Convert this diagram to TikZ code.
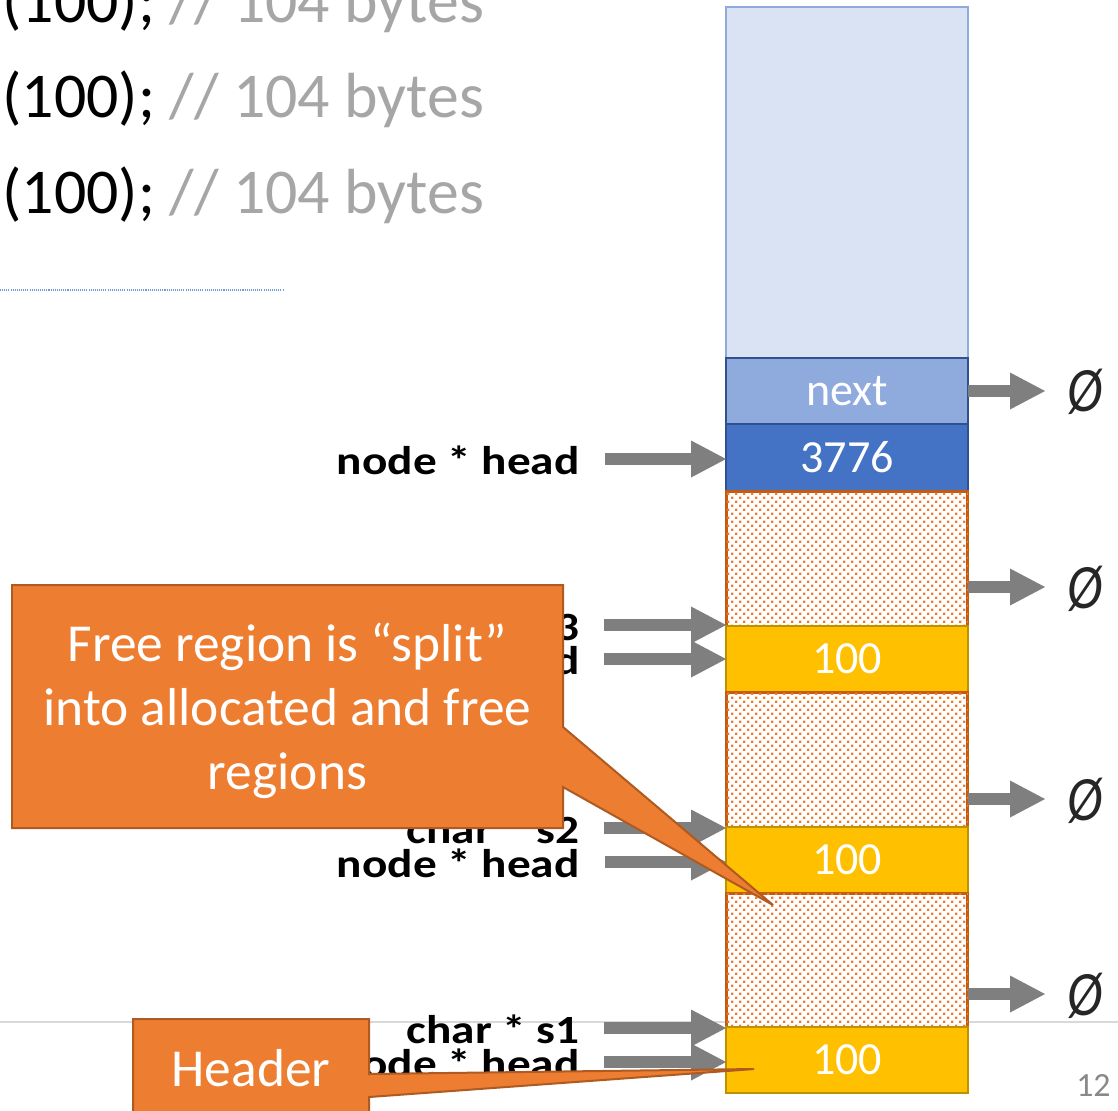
\documentclass[tikz,border=0pt]{standalone}
\usepackage{fontspec}
\setmainfont{Carlito}
\usetikzlibrary{arrows.meta,patterns.meta}
\definecolor{lightblk}{HTML}{DAE3F3}
\definecolor{midblue}{HTML}{8FAADC}
\definecolor{darkblue}{HTML}{2F528F}
\definecolor{accblue}{HTML}{4472C4}
\definecolor{goldfill}{HTML}{FFC000}
\definecolor{goldline}{HTML}{BF9000}
\definecolor{freeline}{HTML}{C55A11}
\definecolor{freedot}{HTML}{ED7D31}
\definecolor{arrgray}{HTML}{7F7F7F}
\definecolor{callfill}{HTML}{ED7D31}
\definecolor{callline}{HTML}{AE5A21}
\definecolor{codegray}{HTML}{A6A6A6}
\definecolor{phicol}{HTML}{262626}
\definecolor{pagegray}{HTML}{898989}
\definecolor{rulegray}{HTML}{D9D9D9}
\definecolor{dotblue}{HTML}{6F9AD8}
\tikzdeclarepattern{
  name=hdots,
  type=uncolored,
  bottom left={(0pt,0pt)},
  top right={(4.552pt,4.552pt)},
  tile size={(4.552pt,4.552pt)},
  code={
    \fill (0.1pt,0.1pt) rectangle (1.4pt,1.4pt);
    \fill (2.376pt,2.376pt) rectangle (3.676pt,3.676pt);
  }
}
\begin{document}
\begin{tikzpicture}[x=0.02cm,y=-0.02cm,
  cell/.style={draw, minimum width=4.84cm, inner sep=0pt, outer sep=0pt, text=white,
    line width=0.05cm, font=\fontsize{26.2pt}{30pt}\selectfont},
  topcell/.style={cell, fill=lightblk, draw=midblue, line width=0.04cm},
  nextcell/.style={cell, fill=midblue, draw=darkblue},
  headcell/.style={cell, fill=accblue, draw=darkblue},
  usedcell/.style={cell, fill=goldfill, draw=goldline},
  freecell/.style={cell, fill=white, draw=freeline, line width=0.06cm,
    postaction={pattern=hdots, pattern color=freedot}},
  blk/.style={draw=arrgray, line width=0.25cm,
    -{Triangle[length=0.7cm,width=0.74cm,line width=0pt]}},
  lbl/.style={anchor=base east, inner sep=0pt, text=black,
    font=\fontsize{22.8pt}{26pt}\selectfont\bfseries},
  phi/.style={anchor=base, inner sep=0pt, text=phicol,
    font=\fontsize{36pt}{40pt}\selectfont\itshape},
  calltext/.style={text=white, align=center, inner sep=0pt,
    font=\fontsize{30.4pt}{36.4pt}\selectfont},
  callshape/.style={fill=callfill, draw=callline, line width=0.04cm, line join=miter},
  codeline/.style={anchor=base west, inner sep=0pt, text=black,
    font=\fontsize{36.3pt}{40pt}\selectfont}
]
\useasboundingbox (0,0) rectangle (1118,1110);
\clip (0,0) rectangle (1118,1110);
\fill[white] (0,0) rectangle (1118,1110);

% slide rules
\coordinate (ruleL) at (0,1022);
\coordinate (ruleR) at (1118,1022);
\draw[rulegray, line width=0.03cm] (ruleL) -- (ruleR);
\coordinate (dotL) at (0,290);
\coordinate (dotR) at (284,290);
\draw[dotblue, line width=0.6pt, dash pattern=on 0.6pt off 0.6pt] (dotL) -- (dotR);

% code lines
\node[codeline] (code1) at (2,22) {(100); \textcolor{codegray}{// 104 bytes}};
\node[codeline] (code2) at (2,117) {(100); \textcolor{codegray}{// 104 bytes}};
\node[codeline] (code3) at (2,213) {(100); \textcolor{codegray}{// 104 bytes}};

% memory column
\node[topcell, minimum height=7.02cm] (ctop) at (847,182.5) {};
\node[nextcell, minimum height=1.32cm] (cnext) at (847,391) {next};
\node[headcell, minimum height=1.34cm] (chead) at (847,457.5) {3776};
\node[freecell, minimum height=2.7cm] (free1) at (847,558.5) {};
\node[usedcell, minimum height=1.32cm] (used1) at (847,659) {100};
\node[freecell, minimum height=2.7cm] (free2) at (847,759.5) {};
\node[usedcell, minimum height=1.32cm] (used2) at (847,860) {100};
\node[freecell, minimum height=2.68cm] (free3) at (847,960) {};
\node[usedcell, minimum height=1.32cm] (used3) at (847,1060) {100};

% right arrows to null
\node[phi] (phi1) at (1085,411) {\scalebox{0.85}[1]{Ø}};
\node[phi] (phi2) at (1085,608) {\scalebox{0.85}[1]{Ø}};
\node[phi] (phi3) at (1085,820) {\scalebox{0.85}[1]{Ø}};
\node[phi] (phi4) at (1085,1015) {\scalebox{0.85}[1]{Ø}};
\coordinate (r1) at (1045,391);
\coordinate (r2) at (1045,587);
\coordinate (r3) at (1045,799);
\coordinate (r4) at (1045,994);
\draw[blk] (cnext.east) -- (r1);
\draw[blk] (r2 -| free1.east) -- (r2);
\draw[blk] (r3 -| free2.east) -- (r3);
\draw[blk] (r4 -| free3.east) -- (r4);

% left labels
\node[lbl] (l0) at (580,474) {\scalebox{1.18}[1]{node * head}};
\node[lbl] (l1a) at (580,640) {\scalebox{1.18}[1]{char * s3}};
\node[lbl] (l1b) at (580,674) {\scalebox{1.18}[1]{node * head}};
\node[lbl] (l2a) at (580,843) {\scalebox{1.18}[1]{char * s2}};
\node[lbl] (l2b) at (580,877) {\scalebox{1.18}[1]{node * head}};
\node[lbl] (l3a) at (580,1043) {\scalebox{1.18}[1]{char * s1}};
\node[lbl] (l3b) at (580,1077) {\scalebox{1.18}[1]{node * head}};

% left arrows
\coordinate (p0) at (605,459);
\coordinate (p1a) at (604,625);
\coordinate (p1b) at (604,659);
\coordinate (p2a) at (604,828);
\coordinate (p2b) at (605,862);
\coordinate (p3a) at (604,1028);
\coordinate (p3b) at (604,1062);
\draw[blk] (p0) -- (p0 -| chead.west);
\draw[blk] (p1a) -- (p1a -| used1.west);
\draw[blk] (p1b) -- (p1b -| used1.west);
\draw[blk] (p2a) -- (p2a -| used2.west);
\draw[blk] (p2b) -- (p2b -| used2.west);
\draw[blk] (p3a) -- (p3a -| used3.west);
\draw[blk] (p3b) -- (p3b -| used3.west);

% callout: split
\coordinate (tip1) at (773,905);
\draw[callshape] (12,585) -- (563,585) -- (563,727) -- (tip1) -- (563,787) -- (563,828) -- (12,828) -- cycle;
\node[calltext] (split) at (287.5,711) {Free region is “split”\\into allocated and free\\regions};

% callout: header
\coordinate (tip2) at (754,1069);
\draw[callshape] (133,1019) -- (369,1019) -- (369,1074) -- (tip2) -- (369,1097) -- (369,1125) -- (133,1125) -- cycle;
\node[calltext] (hdr) at (251,1068) {Header};

% page number
\node[anchor=base east, inner sep=0pt, text=pagegray, font=\fontsize{19.3pt}{22pt}\selectfont] (pgno) at (1111,1096) {12};
\end{tikzpicture}
\end{document}
